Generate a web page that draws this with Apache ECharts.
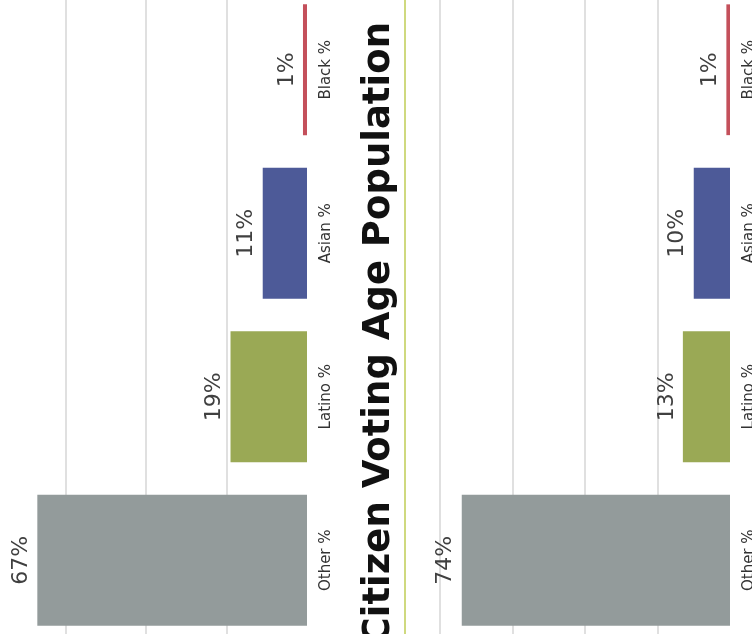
<!DOCTYPE html>
<html>
<head>
<meta charset="utf-8">
<script src="https://cdn.jsdelivr.net/npm/echarts@6/dist/echarts.min.js"></script>
<style>html,body{margin:0;padding:0;background:#fff;overflow:hidden;}#c{position:absolute;left:-30px;top:-30px;width:812px;height:694px;}</style>
</head>
<body>
<div id="c"></div>
<script>
var categories = ['Other %', 'Latino %', 'Asian %', 'Black %'];
var leftValues = [67, 19, 11, 1];
var rightValues = [74, 13, 10, 1];
var barColors = ['#939b9b', '#9aa955', '#4d5a98', '#c4505b'];
var titleText = 'Citizen Voting Age Population';

var chart = echarts.init(document.getElementById('c'), null, {renderer: 'canvas'});

function makeSeries(vals, idx) {
  return {
    type: 'bar',
    xAxisIndex: idx, yAxisIndex: idx,
    barCategoryGap: '20%',
    data: vals.map(function (v, i) { return {value: v, itemStyle: {color: barColors[i]}}; }),
    label: {
      show: true, position: 'left', rotate: 90, distance: 5,
      align: 'center', verticalAlign: 'bottom',
      formatter: '{c}%', fontSize: 22, fontWeight: 'normal', fontFamily: 'DejaVu Sans', color: '#404040'
    },
    silent: true
  };
}
function xAx(idx) {
  return {
    gridIndex: idx, type: 'value', inverse: true, min: 0, max: 80, interval: 20,
    axisLabel: {show: false}, axisLine: {show: false}, axisTick: {show: false},
    splitLine: {show: true, showMinLine: false, lineStyle: {color: '#e0e0e0', width: 2}}
  };
}
function yAx(idx) {
  return {
    gridIndex: idx, type: 'category', data: categories, position: 'right',
    axisLine: {show: false}, axisTick: {show: false},
    axisLabel: {rotate: 90, margin: 12, fontSize: 15, fontWeight: 'normal', fontFamily: 'DejaVu Sans', color: '#333'}
  };
}

chart.setOption({
  animation: false,
  backgroundColor: '#ffffff',
  grid: [
    {left: 15, right: 475, top: 18, bottom: 22},
    {left: 470, right: 52, top: 18, bottom: 22}
  ],
  xAxis: [xAx(0), xAx(1)],
  yAxis: [yAx(0), yAx(1)],
  series: [makeSeries(leftValues, 0), makeSeries(rightValues, 1)],
  graphic: [
    {type: 'rect', shape: {x: 434, y: 0, width: 2, height: 694}, style: {fill: '#cfd97f'}, silent: true},
    {type: 'text', x: 409, y: 52, rotation: Math.PI / 2,
     style: {text: titleText, textAlign: 'right', textVerticalAlign: 'middle',
             fontSize: 37, fontWeight: 'bold', fontFamily: 'DejaVu Sans', fill: '#111'}}
  ]
});
</script>
</body>
</html>
